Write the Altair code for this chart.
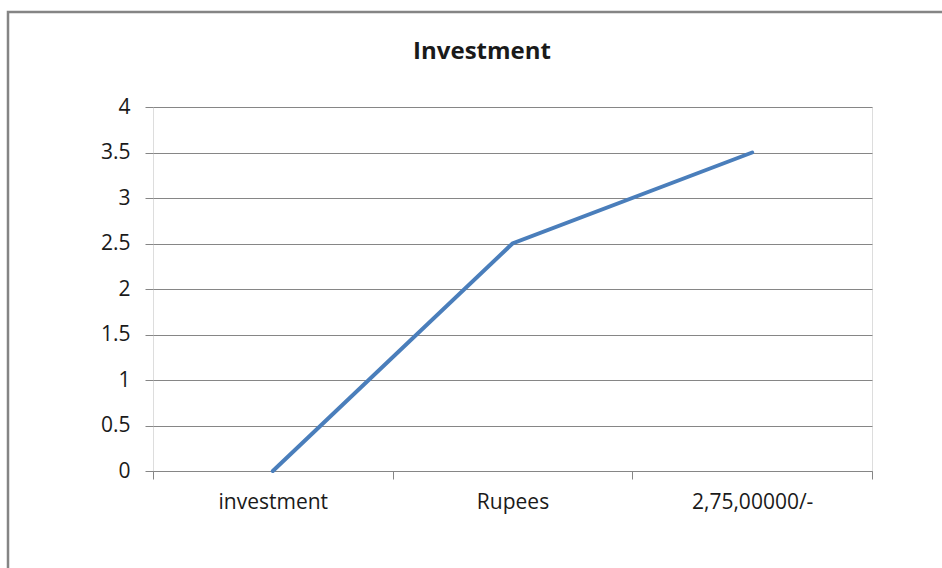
import altair as alt
import pandas as pd

title_text = ["Investment"]
categories = ["investment", "Rupees", "2,75,00000/-"]
values = [0, 2.5, 3.5]
y_ticks = [0, 0.5, 1, 1.5, 2, 2.5, 3, 3.5, 4]

df = pd.DataFrame({"cat": categories, "val": values})
tdf = pd.DataFrame({"t": title_text})

W, H = 719, 364
LEFT, TOP = 153, 107
FONT = "Open Sans"

line = alt.Chart(df).mark_line(color="#4a7ebb", strokeWidth=4, strokeCap="round").encode(
    x=alt.X("cat:N", sort=categories, title=None,
            scale=alt.Scale(paddingInner=0, paddingOuter=0),
            axis=alt.Axis(labelAngle=0, tickBand="extent", tickSize=8,
                          tickColor="#868686", domainColor="#868686",
                          labelFont=FONT, labelFontSize=21, labelColor="#1a1a1a",
                          labelPadding=12, grid=False)),
    y=alt.Y("val:Q", title=None,
            scale=alt.Scale(domain=[0, 4], nice=False),
            axis=alt.Axis(values=y_ticks, format=".1~f", domain=False,
                          tickSize=8, tickColor="#868686", gridColor="#868686",
                          labelFont=FONT, labelFontSize=21, labelColor="#1a1a1a",
                          labelPadding=15)),
)

border = alt.Chart(tdf).mark_rect(fill="transparent", stroke="#858585", strokeWidth=2.5).encode(
    x=alt.value(8 - LEFT), x2=alt.value(960 - LEFT),
    y=alt.value(12 - TOP), y2=alt.value(600 - TOP),
)

title = alt.Chart(tdf).mark_text(font=FONT, fontSize=24, fontWeight="bold", color="#1a1a1a",
                                 align="center", baseline="alphabetic").encode(
    text="t:N",
    x=alt.value(482 - LEFT), y=alt.value(59 - TOP),
)

chart = alt.layer(border, title, line).properties(
    width=W, height=H,
    autosize=alt.AutoSizeParams(type="none"),
    padding={"left": LEFT, "top": TOP, "right": 942 - LEFT - W, "bottom": 568 - TOP - H},
).configure_view(stroke=None).configure(background="white")

chart.save("out.html", embed_options={"renderer": "svg", "actions": False})
